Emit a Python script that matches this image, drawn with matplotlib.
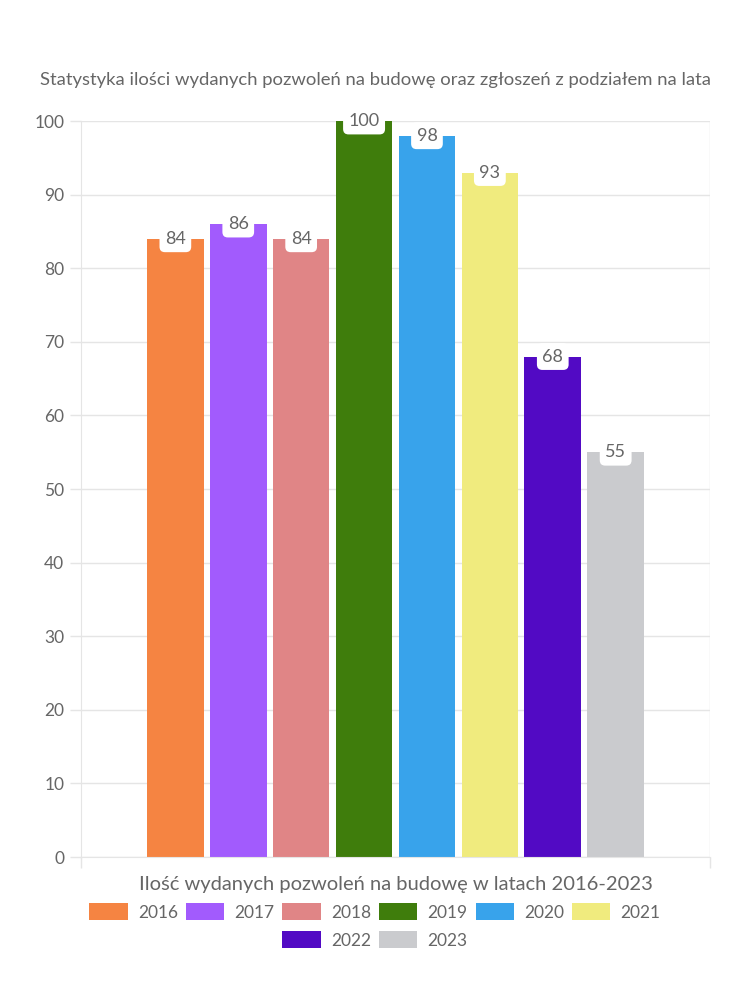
import numpy as np
import matplotlib.pyplot as plt
from matplotlib.patches import Patch

plt.rcParams['font.family'] = ['Lato', 'DejaVu Sans']

years = ['2016', '2017', '2018', '2019', '2020', '2021', '2022', '2023']
values = [84, 86, 84, 100, 98, 93, 68, 55]
colors = ['#F58442', '#A25BFD', '#E08586', '#3F7D0C', '#38A3EB', '#F0EB7E', '#520AC4', '#CACBCE']

title = 'Statystyka ilości wydanych pozwoleń na budowę oraz zgłoszeń z podziałem na lata'
xlabel = 'Ilość wydanych pozwoleń na budowę w latach 2016-2023'

text_color = '#666666'
grid_color = '#E5E5E5'


def main():
    fig = plt.figure(figsize=(7.5, 10), dpi=100)
    ax = fig.add_axes([0.108, 0.143, 0.8387, 0.736])

    # one category, 8 datasets side by side (chart.js style 0.8 / 0.9)
    n = len(values)
    slot = 0.8 / n
    width = slot * 0.9
    xs = -0.4 + slot * (np.arange(n) + 0.5)
    ax.bar(xs, values, width=width, color=colors, zorder=2)

    for x, v in zip(xs, values):
        ax.text(x, v, str(v), ha='center', va='center', fontsize=13, color=text_color, zorder=3,
                bbox=dict(boxstyle='round,pad=0.3,rounding_size=0.3', fc='white', ec='none'))

    ax.set_xlim(-0.5, 0.5)
    ax.set_ylim(0, 100)
    ax.set_yticks(np.arange(0, 101, 10))
    ax.set_xticks([-0.5, 0.5])
    ax.set_xticklabels(['', ''])
    ax.tick_params(axis='both', colors=grid_color, labelcolor=text_color, labelsize=12.5, length=8, width=1)
    ax.tick_params(axis='y', pad=4)

    ax.grid(axis='y', color=grid_color, lw=1, zorder=0)
    ax.axvline(0.5, color=grid_color, lw=1, zorder=0)
    for s in ['top', 'right']:
        ax.spines[s].set_visible(False)
    for s in ['left', 'bottom']:
        ax.spines[s].set_color(grid_color)

    ax.set_xlabel(xlabel, fontsize=14.5, color=text_color, labelpad=2)
    fig.text(0.5, 0.92, title, ha='center', va='center', fontsize=13.3, color=text_color)

    handles = [Patch(facecolor=c, edgecolor='none') for c in colors]
    kw = dict(frameon=False, fontsize=12.5, labelcolor=text_color, handlelength=2.2, handleheight=1.1,
              handletextpad=0.6, columnspacing=0.45, loc='center')
    fig.legend(handles[:6], years[:6], ncol=6, bbox_to_anchor=(0.5, 0.088), **kw)
    fig.legend(handles[6:], years[6:], ncol=2, bbox_to_anchor=(0.5, 0.06), **kw)

    fig.savefig('out.png', dpi=100)


if __name__ == "__main__":
    main()
